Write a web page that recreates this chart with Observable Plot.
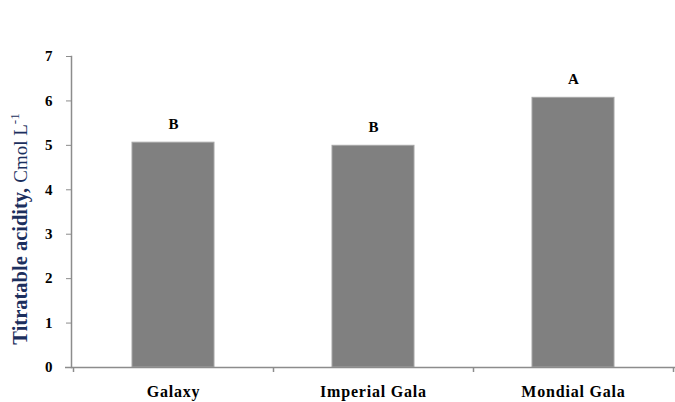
<!DOCTYPE html>
<html><head><meta charset="utf-8">
<script src="https://cdn.jsdelivr.net/npm/d3@7"></script>
<script src="https://cdn.jsdelivr.net/npm/@observablehq/plot@0.6"></script>
<style>
body{margin:0;background:#fff} svg{display:block}
g[aria-label="x-axis tick label"] text{letter-spacing:0.8px}
</style>
</head><body><div id="chart"></div>
<script>
const cultivars = ["Galaxy", "Imperial Gala", "Mondial Gala"];
const acidity = [5.06, 4.99, 6.07];
const letters = ["B", "B", "A"];
const yTicks = [0, 1, 2, 3, 4, 5, 6, 7];
const data = cultivars.map((c, i) => ({cultivar: c, value: acidity[i], letter: letters[i]}));

const chart = Plot.plot({
  width: 675, height: 402,
  marginTop: 56, marginBottom: 35, marginLeft: 71, marginRight: 0,
  style: {fontFamily: "'Liberation Serif', 'Times New Roman', serif", fontWeight: "bold", fontSize: "15px", color: "#000", background: "#fff", overflow: "visible"},
  x: {domain: cultivars, paddingInner: 0.59, paddingOuter: 0.3, label: null},
  y: {domain: [0, 7], label: null},
  marks: [
    Plot.barY(data, {x: "cultivar", y: "value", fill: "#808080", stroke: "#a6a6a6", strokeWidth: 1}),
    Plot.text(data, {x: "cultivar", y: "value", text: "letter", dy: -19, fontSize: 15, fontWeight: "bold", fill: "#000"}),
    Plot.ruleY([0], {stroke: "#8c8c8c", strokeWidth: 1.5, insetLeft: -6}),
    Plot.ruleX(cultivars, {x: d => d, dx: -100, y1: 0, y2: 0, insetBottom: -5, stroke: "#8c8c8c", strokeWidth: 1.5}),
    Plot.ruleX(cultivars.slice(-1), {x: d => d, dx: 100, y1: 0, y2: 0, insetBottom: -5, stroke: "#8c8c8c", strokeWidth: 1.5}),
    Plot.axisY({ticks: yTicks, tickSize: 5, tickPadding: 14, stroke: "#8c8c8c", tickFormat: d => d, fontSize: 15, fontWeight: "bold", fill: "#000", label: null}),
    Plot.axisX({tickSize: 0, tickPadding: 18, fontSize: 16, fontWeight: "bold", fill: "#000", label: null}),
    Plot.frame({anchor: "left", stroke: "#8c8c8c", strokeWidth: 1.5})
  ]
});
document.getElementById("chart").appendChild(chart);

// y-axis title with superscript
const svg = d3.select(chart);
const t = svg.append("text")
  .attr("transform", "translate(27,229) rotate(-90)")
  .attr("text-anchor", "middle")
  .attr("fill", "#1c2f5e")
  .style("font-family", "'Liberation Serif', 'Times New Roman', serif");
t.append("tspan").style("font-weight", "bold").style("font-size", "20.5px").text("Titratable acidity, ");
t.append("tspan").style("font-weight", "normal").style("font-size", "19px").text("Cmol L");
t.append("tspan").style("font-weight", "normal").attr("dy", "-8").style("font-size", "13px").text("-1");
</script>
</body></html>
